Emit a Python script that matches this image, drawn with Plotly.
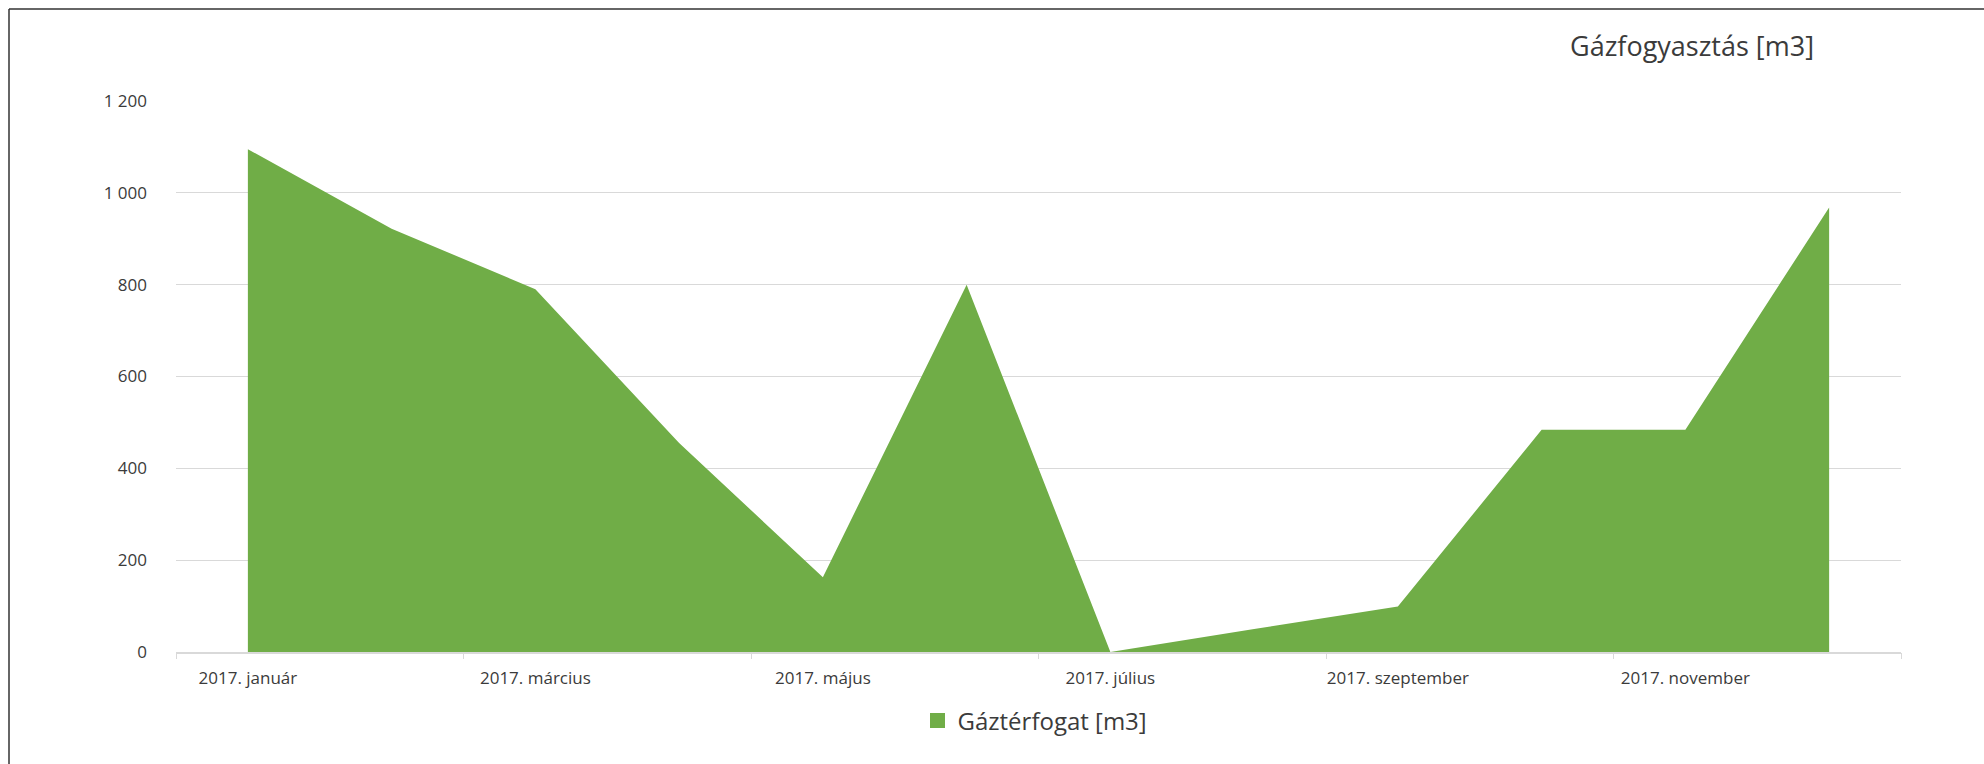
import plotly.graph_objects as go

months = ["2017. január", "2017. február", "2017. március", "2017. április",
          "2017. május", "2017. június", "2017. július", "2017. augusztus",
          "2017. szeptember", "2017. október", "2017. november", "2017. december"]
gas_m3 = [1095, 922, 790, 455, 163, 800, 0, 50, 99, 484, 484, 968]
series_name = "Gáztérfogat [m3]"
chart_title = "Gázfogyasztás [m3]"
label_months = months[::2]
y_ticks = [0, 200, 400, 600, 800, 1000, 1200]

GREEN = "#70AD47"
TXT = "#3b3b3b"
FONT = "Open Sans"

idx = list(range(len(months)))

W, H = 1984, 764
L, R, T, B = 176, 83, 101, 112
PW = W - L - R          # 1725
PH = H - T - B          # 551

FX0 = (9 - L) / PW       # frame left edge (paper units)
FY1 = (H - B - 9) / PH   # frame top edge (paper units)

fig = go.Figure()
fig.add_trace(go.Scatter(x=idx, y=gas_m3, mode="none", fill="tozeroy",
                         fillcolor=GREEN, showlegend=False, hoverinfo="skip"))
fig.add_trace(go.Scatter(x=[None], y=[None], mode="markers", name=series_name,
                         marker=dict(symbol="square", size=15, color=GREEN)))
fig.add_trace(go.Scatter(x=[None], y=[None], xaxis="x2", showlegend=False))

frame = dict(color="#333333", width=1.5)

fig.update_layout(
    width=W, height=H,
    margin=dict(l=L, r=R, t=T, b=B),
    paper_bgcolor="white", plot_bgcolor="white",
    font=dict(family=FONT, color=TXT, size=17),
    separators=", ",
    title=dict(text=chart_title, x=(1692 - L) / PW, xref="paper", xanchor="center",
               y=1 - 47 / H, yanchor="middle", font=dict(size=27, color=TXT)),
    xaxis=dict(range=[-0.5, len(months) - 0.5], tickmode="array",
               tickvals=idx[::2], ticktext=label_months, ticks="",
               showgrid=False, showline=True, linecolor="#d9d9d9", linewidth=2,
               zeroline=False, ticklabelstandoff=10, tickfont=dict(size=17)),
    xaxis2=dict(overlaying="x", range=[-0.5, len(months) - 0.5], tickmode="array",
                tickvals=[i - 0.5 for i in idx[::2]] + [len(months) - 0.5],
                ticktext=[""] * 7, ticks="outside", ticklen=6, tickwidth=1,
                tickcolor="#d9d9d9", showgrid=False, showline=False, zeroline=False,
                side="bottom", anchor="y"),
    yaxis=dict(range=[0, 1200], tickmode="array", tickvals=y_ticks,
               separatethousands=True, showgrid=True, gridcolor="#d9d9d9",
               gridwidth=1, zeroline=False, showline=False, ticks="",
               ticklabelstandoff=28, tickfont=dict(size=17)),
    legend=dict(orientation="h", x=(1035 - L) / PW, xanchor="center",
                y=(H - B - 721) / PH, yanchor="middle",
                font=dict(size=24, color=TXT)),
    shapes=[
        dict(type="line", xref="paper", yref="paper", x0=FX0, x1=1.1,
             y0=FY1, y1=FY1, line=frame, layer="below"),
        dict(type="line", xref="paper", yref="paper", x0=FX0, x1=FX0,
             y0=-0.3, y1=FY1, line=frame, layer="below"),
    ],
)

fig.write_html("out.html",
               config={"displayModeBar": False},
               post_script="document.body.style.margin='0';"
                           "document.documentElement.style.overflow='hidden';"
                           "document.body.style.overflow='hidden';")
